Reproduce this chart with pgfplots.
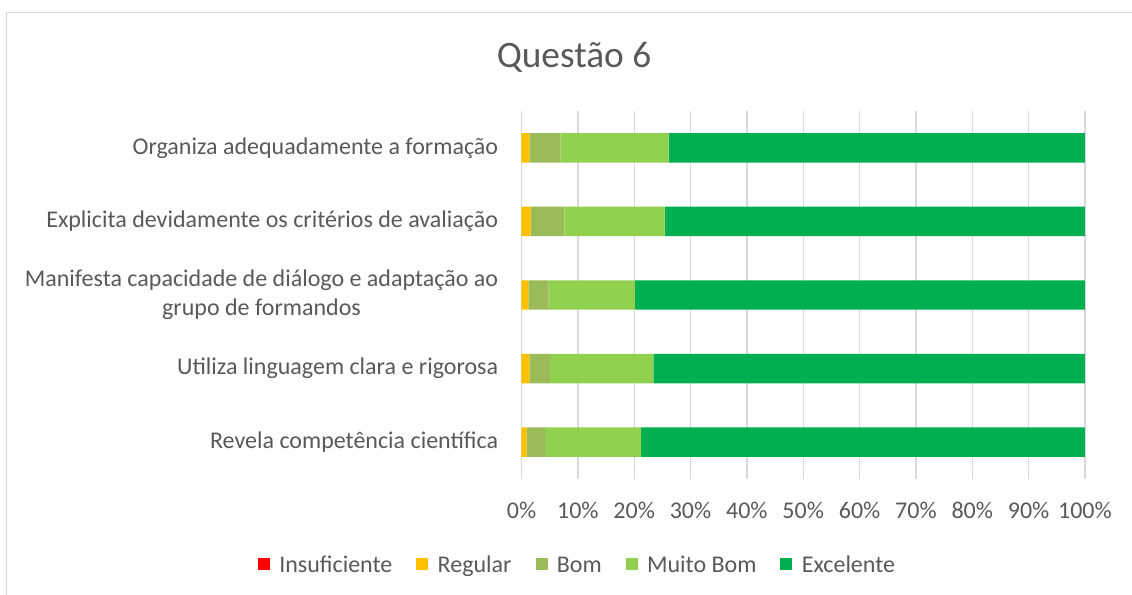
\documentclass[border=0pt]{standalone}
\usepackage{pgfplots}
\pgfplotsset{compat=1.18}
\usepackage{pgfplotstable}
\usepackage{fontspec}
\setmainfont{Carlito}
\definecolor{txt}{HTML}{595959}
\definecolor{grd}{HTML}{D9D9D9}
\definecolor{cins}{HTML}{FF0000}
\definecolor{creg}{HTML}{FFC000}
\definecolor{cbom}{HTML}{9BBB59}
\definecolor{cmb}{HTML}{92D050}
\definecolor{cexc}{HTML}{00B050}
\pgfplotstableread{
y ins reg bom mb exc
0 0 0.9 3.3 17.0 78.8
1 0 1.4 3.7 18.3 76.6
2 0 1.2 3.6 15.3 79.9
3 0 1.6 6.0 17.8 74.6
4 0 1.4 5.5 19.2 73.9
}\datatab
\begin{document}
\begin{tikzpicture}
\useasboundingbox (0pt,0pt) rectangle (849pt,-446.25pt);
\draw[grd, line width=1pt] (4.875pt,-446.25pt) -- (4.875pt,-9.375pt) -- (849pt,-9.375pt);
\node[txt, font=\fontsize{28}{32}\selectfont] at (430.5pt,-42.75pt) {Questão 6};
\begin{axis}[
  at={(391.125pt,-83.4pt)}, anchor=north west,
  width=422.6pt, height=275.7pt, scale only axis,
  xbar stacked, bar width=22.1pt,
  xmin=0, xmax=100, ymin=-0.5, ymax=4.5,
  xtick={0,10,...,100},
  xticklabel={\pgfmathprintnumber{\tick}\%},
  /pgf/number format/assume math mode=true,
  ytick={0,1,2,3,4},
  yticklabels={Revela competência científica, Utiliza linguagem clara e rigorosa, {Manifesta capacidade de diálogo e adaptação ao\\grupo de formandos}, Explicita devidamente os critérios de avaliação, Organiza adequadamente a formação},
  yticklabel style={align=center, font=\fontsize{18}{22}\selectfont, text=txt, xshift=-14pt},
  xticklabel style={font=\fontsize{18}{22}\selectfont, text=txt, yshift=-14pt},
  major tick length=0pt,
  axis line style={draw=none},
  xmajorgrids, grid style={grd, line width=1pt},
  legend columns=5,
  legend style={at={(0.1,-0.243)}, anchor=center, draw=none, fill=none,
    font=\fontsize{18}{22}\selectfont, text=txt,
    nodes={text height=0.72em, text depth=0.22em},
    /tikz/every odd column/.append style={column sep=5pt},
    /tikz/every even column/.append style={column sep=16pt}},
  legend image code/.code={\fill[#1] (0pt,0pt) rectangle (9pt,9pt);},
  every axis plot/.append style={draw=none},
]
\addplot[fill=cins] table[x=ins,y=y]{\datatab};
\addplot[fill=creg] table[x=reg,y=y]{\datatab};
\addplot[fill=cbom] table[x=bom,y=y]{\datatab};
\addplot[fill=cmb] table[x=mb,y=y]{\datatab};
\addplot[fill=cexc] table[x=exc,y=y]{\datatab};
\legend{Insuficiente, Regular, Bom, Muito Bom, Excelente}
\end{axis}
\end{tikzpicture}
\end{document}
